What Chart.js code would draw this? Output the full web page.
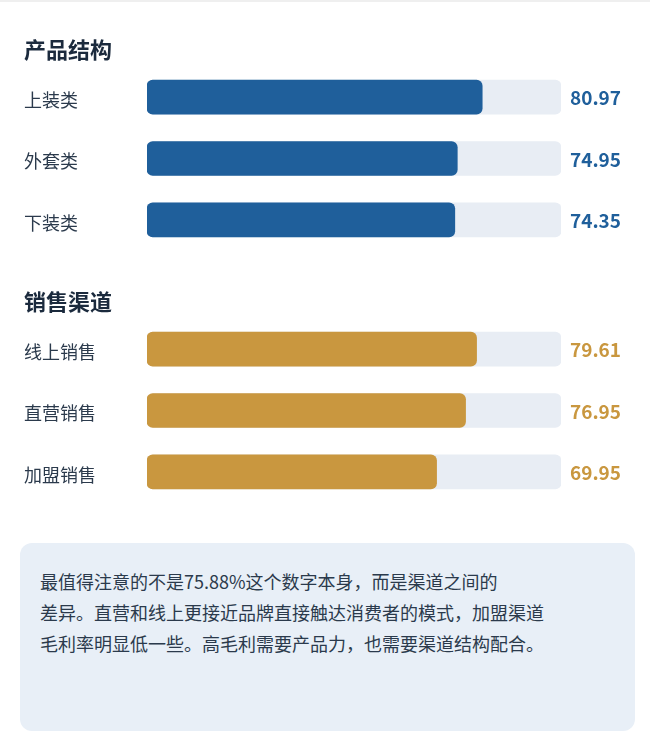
<!DOCTYPE html>
<html lang="zh-CN">
<head>
<meta charset="utf-8">
<title>产品结构与销售渠道</title>
<script src="https://cdn.jsdelivr.net/npm/chart.js@4.4.1/dist/chart.umd.min.js"></script>
<style>
    html, body {
        margin: 0;
        padding: 0;
        background: #ffffff;
        font-family: "Noto Sans CJK SC", "Noto Sans", sans-serif;
    }
    .page {
        position: relative;
        width: 650px;
        height: 747px;
        overflow: hidden;
    }
    .top-line {
        position: absolute;
        left: 0;
        top: 0;
        width: 650px;
        height: 2px;
        background: #efefef;
    }
    canvas {
        position: absolute;
        left: 0;
    }
    #productChart { top: 28px; }
    #channelChart { top: 280px; }
    .note {
        position: absolute;
        left: 20px;
        top: 543px;
        width: 615px;
        height: 188px;
        box-sizing: border-box;
        padding: 23px 20px 0 20px;
        background: #e8eff7;
        border-radius: 12px;
        color: #2b3a4c;
        font-size: 18px;
        line-height: 31px;
    }
</style>
</head>
<body>
<div class="page">
    <div class="top-line"></div>
    <canvas id="productChart" width="650" height="243"></canvas>
    <canvas id="channelChart" width="650" height="243"></canvas>
    <div class="note">最值得注意的不是75.88%这个数字本身，而是渠道之间的<br>差异。直营和线上更接近品牌直接触达消费者的模式，加盟渠道<br>毛利率明显低一些。高毛利需要产品力，也需要渠道结构配合。</div>
</div>
<script>
// data
const productTitle = '产品结构';
const productLabels = ['上装类', '外套类', '下装类'];
const productValues = [80.97, 74.95, 74.35];

const channelTitle = '销售渠道';
const channelLabels = ['线上销售', '直营销售', '加盟销售'];
const channelValues = [79.61, 76.95, 69.95];

const trackMax = 100;

Chart.defaults.font.family = '"Noto Sans CJK SC", "Noto Sans", sans-serif';

function makeBarChart(canvasId, title, labels, values, color) {
    const ctx = document.getElementById(canvasId).getContext('2d');
    const track = labels.map(() => trackMax);

    return new Chart(ctx, {
        type: 'bar',
        data: {
            labels: labels,
            datasets: [
                {
                    data: values,
                    backgroundColor: color,
                    borderRadius: 6,
                    borderSkipped: false,
                    barThickness: 34,
                    grouped: false,
                    order: 0
                },
                {
                    data: track,
                    backgroundColor: '#e8edf4',
                    borderRadius: 6,
                    borderSkipped: false,
                    barThickness: 34,
                    grouped: false,
                    order: 1
                }
            ]
        },
        options: {
            indexAxis: 'y',
            responsive: false,
            animation: false,
            layout: { padding: { left: 24, right: 0, top: 0, bottom: 0 } },
            plugins: {
                legend: { display: false },
                tooltip: { enabled: false },
                title: {
                    display: true,
                    text: title,
                    align: 'start',
                    color: '#1b2a3d',
                    font: { size: 22, weight: 'bold' },
                    padding: { top: 8, bottom: 4 }
                }
            },
            scales: {
                x: { min: 0, max: trackMax, display: false },
                y: {
                    position: 'left',
                    grid: { display: false, drawTicks: false },
                    border: { display: false },
                    ticks: {
                        crossAlign: 'far',
                        color: '#2b3a4c',
                        font: { size: 18 },
                        padding: 0,
                        labelOffset: 3
                    },
                    afterFit(scale) { scale.width = 123; }
                },
                yValue: {
                    type: 'category',
                    labels: values.map(v => v.toFixed(2)),
                    position: 'right',
                    offset: true,
                    grid: { display: false, drawTicks: false },
                    border: { display: false },
                    ticks: {
                        color: color,
                        font: { size: 19, weight: 'bold' },
                        padding: 9,
                        labelOffset: 1
                    },
                    afterFit(scale) { scale.width = 89; }
                }
            }
        }
    });
}

makeBarChart('productChart', productTitle, productLabels, productValues, '#1f5f9b');
makeBarChart('channelChart', channelTitle, channelLabels, channelValues, '#c9973f');
</script>
</body>
</html>
